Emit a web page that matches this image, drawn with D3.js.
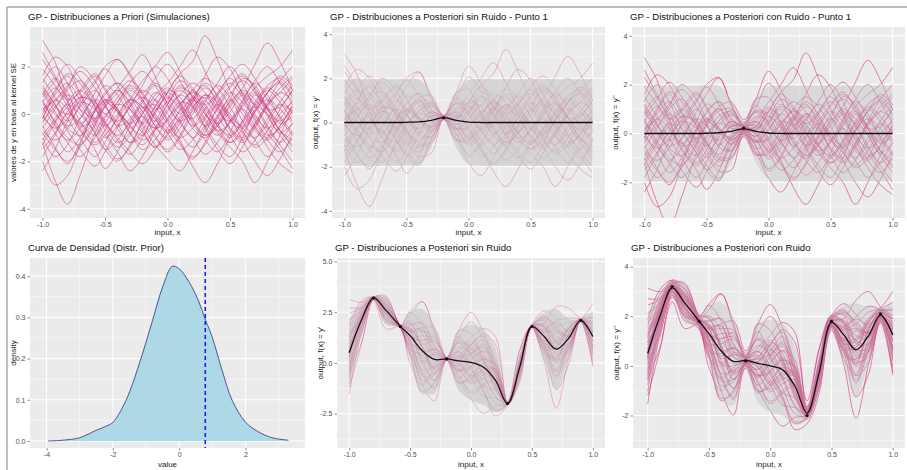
<!DOCTYPE html>
<html>
<head>
<meta charset="utf-8">
<script src="https://cdn.jsdelivr.net/npm/d3@7"></script>
<style>
  body { margin: 0; background: #fff; }
  text { font-family: "Liberation Sans", Arial, sans-serif; }
</style>
</head>
<body>
<div id="chart"></div>
<script>
var W = 907, H = 470;

// shared x grid for all GP panels
var xs = [-1, -0.9, -0.8, -0.7, -0.58, -0.5, -0.4, -0.3, -0.2, -0.1, 0, 0.1, 0.2, 0.3, 0.4, 0.5, 0.6, 0.7, 0.8, 0.9, 1];

// prior draws (standardised)
var priorDraws = [
  [0.8, 1.5, 0.9, -0.3, -0.9, -0.4, 0.5, 1.1, 0.6, -0.2, -0.8, -0.3, 0.7, 1.2, 0.4, -0.6, -1.1, -0.5, 0.3, 0.9, 0.6],
  [-0.5, -1.4, -2.1, -1.2, 0.1, 0.6, 0.2, -0.5, -0.9, -0.3, 0.6, 1.4, 1.0, 0.1, -0.7, -0.4, 0.5, 1.3, 0.8, -0.2, -0.9],
  [3.1, 2.2, 0.6, -0.4, 0.2, 0.9, 1.3, 0.7, -0.1, -0.6, -0.2, 0.5, 0.3, -0.5, -1.3, -1.8, -1.0, 0.1, 0.6, 0.2, -0.4],
  [-1.2, -2.8, -3.8, -2.6, -0.8, -0.1, 0.4, 0.2, -0.4, -1.0, -1.5, -0.9, 0.2, 0.8, 0.5, -0.3, -0.6, 0.1, 0.9, 1.3, 0.7],
  [0.2, 0.6, 1.2, 1.8, 1.1, 0.4, -0.6, -1.2, -0.7, 0.3, 1.0, 0.7, -0.2, -0.9, -0.4, 0.6, 1.5, 1.2, 0.2, -0.7, -1.4],
  [-2.0, -3.0, -2.6, -1.3, 0.1, 0.5, 0.1, -0.8, -1.5, -1.1, -0.2, 0.4, 0.9, 0.6, -0.1, -0.9, -1.6, -1.1, -0.2, 0.4, 0.1],
  [1.2, 0.4, -0.5, -0.2, 0.9, 1.6, 2.3, 1.7, 0.8, 0.2, 0.5, 1.1, 0.8, 0.0, -0.7, -1.2, -0.6, 0.4, 1.0, 0.5, -0.3],
  [-0.3, 0.3, 0.8, 0.4, -0.6, -1.3, -1.9, -1.4, -0.3, 0.6, 1.1, 0.5, -0.4, -1.1, -1.6, -0.8, 0.4, 1.1, 1.6, 2.0, 2.7],
  [0.6, -0.4, -1.2, -1.8, -1.0, -0.2, 0.7, 1.2, 0.9, 1.5, 2.1, 1.4, 0.3, -0.5, -0.1, 0.8, 1.4, 0.9, 0.0, -0.8, -0.4],
  [-0.9, -0.2, 0.5, 1.0, 0.3, -0.7, -1.4, -0.9, 0.1, 0.4, -0.2, -1.1, -2.2, -2.9, -2.1, -1.0, -0.3, 0.3, 0.0, -0.7, -1.3],
  [1.6, 2.4, 2.0, 0.9, -0.2, -0.5, 0.0, 0.6, 0.3, -0.5, -1.0, -0.4, 0.5, 1.6, 2.4, 1.9, 0.8, -0.1, -0.6, -0.2, 0.6],
  [-1.5, -0.8, 0.1, 0.7, 0.5, 0.0, -0.3, 0.3, 1.2, 2.0, 1.5, 0.4, -0.6, -1.0, -0.5, 0.3, 0.9, 0.4, -0.5, -1.3, -2.0],
  [0.1, 1.0, 1.7, 1.3, 0.3, -0.4, -1.0, -1.6, -2.1, -1.5, -0.6, 0.1, 0.6, 0.2, -0.5, -0.9, -0.4, 0.5, 1.2, 1.5, 1.0],
  [2.3, 1.5, 0.7, 0.2, -0.3, -0.9, -1.6, -2.4, -1.8, -0.7, 0.2, 0.8, 1.3, 0.9, 0.1, -0.3, 0.2, -0.5, -1.4, -2.1, -2.5],
  [-0.7, -1.1, -0.6, 0.4, 1.3, 1.9, 1.2, 0.2, -0.4, 0.1, 0.9, 1.7, 2.2, 3.3, 2.3, 1.0, 0.2, -0.6, -1.0, -0.5, 0.3],
  [0.4, 0.0, -0.7, -1.5, -2.2, -1.6, -0.6, 0.3, 0.7, 0.3, -0.4, -1.0, -0.6, 0.2, 0.8, 1.3, 0.7, -0.3, -1.1, -1.6, -1.0],
  [-2.4, -1.5, -0.3, 0.6, 1.4, 2.0, 2.3, 1.6, 0.6, -0.2, -0.7, -0.2, 0.5, 1.1, 0.6, -0.2, -0.8, -1.3, -0.7, 0.2, 1.0],
  [1.0, 0.3, 0.0, 0.5, 0.2, -0.5, -1.2, -0.8, 0.0, 0.8, 1.3, 2.0, 2.7, 1.8, 0.7, 0.0, -0.6, -1.0, -0.4, 0.5, 1.2],
  [-0.2, 0.9, 1.6, 0.8, -0.4, -1.0, -0.5, 0.4, 1.0, 0.6, -0.3, -1.2, -1.8, -1.3, -0.2, 0.5, 1.1, 2.1, 3.0, 2.2, 1.0],
  [0.9, 0.1, -0.6, -0.9, -0.3, 0.5, 1.0, 0.5, -0.5, -1.3, -1.9, -2.4, -1.6, -0.6, 0.2, 0.9, 0.5, -0.2, -0.9, -0.6, 0.1],
  [-1.0, -1.8, -1.3, -0.2, 0.6, 0.3, -0.4, -1.2, -0.9, 0.0, 0.7, 0.3, -0.5, -0.1, 0.8, 1.6, 2.1, 1.5, 0.6, -0.1, -0.8],
  [1.9, 1.2, 0.3, -0.7, -1.3, -0.9, -0.2, 0.6, 1.4, 2.0, 2.6, 1.8, 0.7, 0.0, -0.4, 0.1, 0.8, 0.3, -0.6, -1.2, -0.7],
  [-0.4, 0.5, 1.1, 2.0, 1.4, 0.6, 0.1, -0.5, -1.1, -0.7, 0.1, 0.8, 0.4, -0.6, -1.5, -2.1, -1.4, -0.4, 0.4, 1.1, 1.6],
  [0.0, -0.8, -1.6, -1.0, 0.2, 0.8, 1.3, 0.8, 0.1, -0.6, -0.3, 0.4, 1.0, 1.5, 1.1, 0.3, -0.7, -1.4, -1.0, 0.0, 0.5],
  [1.3, 2.0, 1.3, 0.2, -0.8, -1.5, -1.1, -0.3, 0.3, -0.1, -0.8, -1.5, -1.1, -0.2, 0.5, 1.2, 1.7, 1.0, 0.2, 0.3, 1.0],
  [-1.8, -0.9, 0.0, -0.4, -1.2, -0.7, 0.3, 1.0, 0.5, -0.5, -1.1, -0.6, 0.3, 0.7, 0.2, -0.6, -1.0, -0.4, 0.5, 1.4, 2.0],
  [0.5, 1.1, 0.6, 0.9, 1.6, 1.0, 0.1, -0.8, -1.3, -0.6, 0.4, 1.0, 0.5, -0.3, -0.9, -0.3, 0.6, 1.4, 2.0, 1.3, 0.4],
  [-0.1, -0.6, -0.2, 0.7, 0.4, -0.4, -1.1, -1.7, -1.0, 0.1, 0.9, 1.6, 1.1, 0.4, 0.9, 1.5, 0.9, 0.0, -0.8, -1.5, -2.3],
  [2.6, 1.6, 0.5, -0.5, -0.2, 0.6, 0.2, -0.6, 0.0, 0.9, 0.5, -0.3, -1.0, -0.5, 0.4, -0.2, -1.1, -2.0, -2.6, -1.9, -0.8],
  [-0.6, 0.2, 1.0, 1.4, 0.6, -0.3, -0.9, -0.4, 0.5, 1.2, 0.7, 0.0, 0.6, 1.3, 0.8, -0.1, -0.5, 0.2, 1.1, 0.7, 0.0],
  [0.3, -0.5, -1.1, -0.6, 0.5, 1.2, 0.8, -0.1, -0.8, -1.4, -0.9, -0.1, 0.7, 0.3, -0.5, -1.2, -0.8, 0.1, 0.9, 1.6, 1.2],
  [-1.3, -0.4, 0.4, 0.0, -0.8, -1.5, -2.0, -1.3, -0.4, 0.3, 0.9, 0.4, -0.3, -0.9, -0.5, 0.4, 1.0, 0.6, -0.1, -0.9, -1.6],
  [0.7, 1.4, 2.1, 1.5, 0.5, 0.0, 0.5, 1.3, 1.8, 1.2, 0.3, -0.4, -1.0, -1.7, -1.2, -0.3, 0.3, 0.9, 0.3, -0.4, -0.1],
  [-0.8, -1.5, -2.0, -1.4, -0.4, 0.3, 0.9, 1.4, 0.9, 0.0, -0.6, -1.3, -1.9, -1.2, -0.1, 0.6, 0.0, -0.7, -1.1, -0.5, 0.4],
  [1.1, 0.4, -0.3, 0.3, 1.0, 0.4, -0.5, -0.2, 0.6, 1.3, 0.8, 0.2, -0.2, 0.5, 1.2, 0.7, -0.3, -1.1, -1.8, -1.2, -0.4],
  [-0.2, 0.6, 0.2, -0.6, -1.5, -2.3, -1.6, -0.5, 0.2, 0.6, 0.0, -0.8, -1.4, -0.8, 0.3, 1.1, 1.6, 1.1, 0.2, -0.3, 0.3],
  [0.5, -0.3, -1.0, -1.3, -0.5, 0.4, 1.1, 1.8, 2.5, 1.6, 0.4, -0.3, 0.1, 0.8, 0.3, -0.7, -1.2, -0.6, 0.4, 0.9, 1.5],
  [-1.1, -0.3, 0.3, 1.0, 1.7, 1.1, 0.2, -0.4, -0.1, -0.9, -1.6, -1.0, 0.0, 0.6, 1.3, 2.0, 1.3, 0.4, 0.9, 1.4, 0.8],
  [0.0, 0.8, 1.3, 0.6, -0.2, 0.3, 1.0, 0.4, -0.7, -1.4, -0.8, 0.2, 1.0, 0.4, -0.4, -1.0, -0.3, 0.8, 0.2, -0.7, -1.1],
  [1.5, 0.7, -0.2, -1.0, -1.8, -1.2, -0.1, 0.6, 0.3, -0.3, 0.4, 1.2, 0.7, -0.2, -0.8, -1.4, -2.0, -2.9, -2.0, -0.9, 0.2]
];

// posterior, one point (x = -0.2)
var point1X = [-0.2], point1Y = [0.22];
var meanP1 = [0, 0, 0, 0, 0, 0.01, 0.03, 0.1, 0.22, 0.1, 0.02, 0, 0, 0, 0, 0, 0, 0, 0, 0, 0];
var sdP1 = [1, 1, 1, 1, 1, 1, 0.98, 0.62, 0.04, 0.62, 0.97, 1, 1, 1, 1, 1, 1, 1, 1, 1, 1];
var meanP1n = [0, 0, 0, 0, 0, 0.01, 0.03, 0.09, 0.19, 0.09, 0.02, 0, 0, 0, 0, 0, 0, 0, 0, 0, 0];
var sdP1n = [1, 1, 1, 1, 1, 1, 0.98, 0.66, 0.15, 0.66, 0.97, 1, 1, 1, 1, 1, 1, 1, 1, 1, 1];

// posterior, all points
var obsX = [-0.8, -0.58, -0.2, 0.3, 0.5, 0.9];
var obsY = [3.2, 1.8, 0.2, -2.0, 1.8, 2.1];
var meanAll = [0.5, 2.1, 3.2, 2.6, 1.8, 1.35, 0.6, 0.17, 0.2, 0.1, 0.03, -0.2, -0.85, -2.0, -0.2, 1.8, 1.3, 0.68, 1.2, 2.1, 1.3];
var sdAll = [0.85, 0.4, 0.03, 0.35, 0.03, 0.6, 1.05, 0.85, 0.03, 0.75, 0.95, 0.95, 0.8, 0.03, 0.35, 0.03, 0.6, 1.0, 0.5, 0.03, 0.6];
var meanAllN = [0.5, 2.0, 3.15, 2.55, 1.8, 1.3, 0.6, 0.18, 0.22, 0.1, 0.0, -0.15, -0.8, -1.9, -0.25, 1.75, 1.25, 0.65, 1.2, 2.05, 1.25];
var sdAllN = [0.85, 0.45, 0.15, 0.4, 0.15, 0.6, 1.0, 0.9, 0.15, 0.8, 0.95, 0.95, 0.8, 0.15, 0.4, 0.15, 0.6, 0.95, 0.6, 0.15, 0.65];

// density of prior values
var densX = [-3.95, -3.5, -3.0, -2.5, -2.2, -2.0, -1.6, -1.2, -0.8, -0.5, -0.2, 0.0, 0.3, 0.6, 0.8, 1.0, 1.3, 1.6, 2.0, 2.4, 2.8, 3.3];
var densY = [0.0, 0.002, 0.008, 0.026, 0.036, 0.045, 0.099, 0.188, 0.293, 0.373, 0.424, 0.418, 0.386, 0.337, 0.293, 0.252, 0.171, 0.099, 0.046, 0.022, 0.008, 0.002];
var vLine = 0.79;

var gpTicks = [-1, -0.5, 0, 0.5, 1];

var svg = d3.select('#chart').append('svg')
  .attr('width', W)
  .attr('height', H);

// outer frame
svg.append('line').attr('x1', 7).attr('x2', W).attr('y1', 7).attr('y2', 7)
  .attr('stroke', '#a8a8a8').attr('stroke-width', 1.5);
svg.append('line').attr('x1', 7).attr('x2', 7).attr('y1', 7).attr('y2', H)
  .attr('stroke', '#a8a8a8').attr('stroke-width', 1.5);

var clipId = 0;

function minors(ticks, dom) {
  var step = ticks[1] - ticks[0], out = [];
  for (var v = ticks[0] - step / 2; v <= dom[1]; v += step) {
    if (v >= dom[0]) out.push(v);
  }
  return out;
}

function panel(cfg) {
  var g = svg.append('g');
  var x = d3.scaleLinear().domain(cfg.xd).range([cfg.l, cfg.r]);
  var y = d3.scaleLinear().domain(cfg.yd).range([cfg.b, cfg.t]);

  g.append('rect')
    .attr('x', cfg.l).attr('y', cfg.t)
    .attr('width', cfg.r - cfg.l).attr('height', cfg.b - cfg.t)
    .attr('fill', '#ebebeb');

  // minor grid
  g.selectAll('.mx').data(minors(cfg.xt, cfg.xd)).enter().append('line')
    .attr('x1', function(d) { return x(d); }).attr('x2', function(d) { return x(d); })
    .attr('y1', cfg.t).attr('y2', cfg.b)
    .attr('stroke', '#fff').attr('stroke-width', 0.5);
  g.selectAll('.my').data(minors(cfg.yt, cfg.yd)).enter().append('line')
    .attr('y1', function(d) { return y(d); }).attr('y2', function(d) { return y(d); })
    .attr('x1', cfg.l).attr('x2', cfg.r)
    .attr('stroke', '#fff').attr('stroke-width', 0.5);
  // major grid
  g.selectAll('.gx').data(cfg.xt).enter().append('line')
    .attr('x1', function(d) { return x(d); }).attr('x2', function(d) { return x(d); })
    .attr('y1', cfg.t).attr('y2', cfg.b)
    .attr('stroke', '#fff').attr('stroke-width', 1);
  g.selectAll('.gy').data(cfg.yt).enter().append('line')
    .attr('y1', function(d) { return y(d); }).attr('y2', function(d) { return y(d); })
    .attr('x1', cfg.l).attr('x2', cfg.r)
    .attr('stroke', '#fff').attr('stroke-width', 1);

  // axes
  var ax = g.append('g').attr('transform', 'translate(0,' + cfg.b + ')')
    .call(d3.axisBottom(x).tickValues(cfg.xt).tickFormat(cfg.xf).tickSize(2.5).tickPadding(2));
  var ay = g.append('g').attr('transform', 'translate(' + cfg.l + ',0)')
    .call(d3.axisLeft(y).tickValues(cfg.yt).tickFormat(cfg.yf).tickSize(2.5).tickPadding(2));
  [ax, ay].forEach(function(a) {
    a.select('.domain').remove();
    a.selectAll('line').attr('stroke', '#444').attr('stroke-width', 0.6);
    a.selectAll('text').attr('fill', '#4d4d4d').style('font-size', '7px')
      .style('font-family', '"Liberation Sans", Arial, sans-serif');
  });

  // titles
  g.append('text').attr('x', cfg.l - 2).attr('y', cfg.t - 7)
    .style('font-size', '9.6px').attr('fill', '#111').text(cfg.title);
  g.append('text').attr('x', (cfg.l + cfg.r) / 2).attr('y', cfg.b + cfg.xlabOff)
    .attr('text-anchor', 'middle').style('font-size', '8px').attr('fill', '#222').text(cfg.xlab);
  var cy = (cfg.t + cfg.b) / 2;
  g.append('text').attr('transform', 'translate(' + (cfg.l - 14) + ',' + cy + ') rotate(-90)')
    .attr('text-anchor', 'middle').style('font-size', '8px').attr('fill', '#222').text(cfg.ylab);

  var id = 'clip' + (clipId++);
  g.append('clipPath').attr('id', id).append('rect')
    .attr('x', cfg.l).attr('y', cfg.t)
    .attr('width', cfg.r - cfg.l).attr('height', cfg.b - cfg.t);
  var plot = g.append('g').attr('clip-path', 'url(#' + id + ')');
  return { x: x, y: y, plot: plot };
}

var f1 = function(d) { return d.toFixed(1); };
var f0 = function(d) { return d.toFixed(0); };

function gpPanel(cfg, mean, sd, lineOpacity, ribbonOpacity, px, py) {
  var p = panel(cfg);
  var line = d3.line()
    .x(function(d, i) { return p.x(xs[i]); })
    .y(function(d) { return p.y(d); })
    .curve(d3.curveCatmullRom.alpha(0.5));

  var draws = priorDraws.map(function(z) {
    return z.map(function(v, i) { return (mean ? mean[i] : 0) + (sd ? sd[i] : 1) * v; });
  });

  p.plot.selectAll('.draw').data(draws).enter().append('path')
    .attr('d', line)
    .attr('fill', 'none')
    .attr('stroke', '#cf2f78')
    .attr('stroke-opacity', lineOpacity)
    .attr('stroke-width', 0.9);

  if (mean) {
    var area = d3.area()
      .x(function(d, i) { return p.x(xs[i]); })
      .y0(function(d, i) { return p.y(mean[i] - 1.96 * sd[i]); })
      .y1(function(d, i) { return p.y(mean[i] + 1.96 * sd[i]); })
      .curve(d3.curveCatmullRom.alpha(0.5));
    p.plot.append('path').datum(mean)
      .attr('d', area)
      .attr('fill', '#c4c4c4')
      .attr('fill-opacity', ribbonOpacity);

    p.plot.append('path').datum(mean)
      .attr('d', line)
      .attr('fill', 'none')
      .attr('stroke', '#111')
      .attr('stroke-width', 1.3);

    p.plot.selectAll('.obs').data(px).enter().append('circle')
      .attr('cx', function(d) { return p.x(d); })
      .attr('cy', function(d, i) { return p.y(py[i]); })
      .attr('r', 1.6)
      .attr('fill', '#111');
  }
}

// top row
gpPanel({ l: 30, r: 305, t: 27, b: 218, xd: [-1.1, 1.1], yd: [-4.39, 3.67],
  xt: gpTicks, yt: [-4, -2, 0, 2], xf: f1, yf: f0, xlabOff: 17,
  title: 'GP - Distribuciones a Priori (Simulaciones)', xlab: 'input, x',
  ylab: 'valores de y en base al kernel SE' }, null, null, 0.58);

gpPanel({ l: 332, r: 605, t: 27, b: 218, xd: [-1.1, 1.1], yd: [-4.32, 4.32],
  xt: gpTicks, yt: [-4, -2, 0, 2, 4], xf: f1, yf: f0, xlabOff: 17,
  title: 'GP - Distribuciones a Posteriori sin Ruido - Punto 1', xlab: 'input, x',
  ylab: "output, f(x) = y'" }, meanP1, sdP1, 0.35, 0.6, point1X, point1Y);

gpPanel({ l: 632, r: 905, t: 27, b: 218, xd: [-1.1, 1.1], yd: [-3.46, 4.36],
  xt: gpTicks, yt: [-2, 0, 2, 4], xf: f1, yf: f0, xlabOff: 17,
  title: 'GP - Distribuciones a Posteriori con Ruido - Punto 1', xlab: 'input, x',
  ylab: "output, f(x) = y''" }, meanP1n, sdP1n, 0.65, 0.45, point1X, point1Y);

// bottom row: density
(function() {
  var p = panel({ l: 30, r: 305, t: 258, b: 448, xd: [-4.5, 3.8], yd: [-0.017, 0.444],
    xt: [-4, -2, 0, 2], yt: [0, 0.1, 0.2, 0.3, 0.4], xf: f0, yf: f1, xlabOff: 19,
    title: 'Curva de Densidad (Distr. Prior)', xlab: 'value', ylab: 'density' });
  var area = d3.area()
    .x(function(d, i) { return p.x(densX[i]); })
    .y0(p.y(0))
    .y1(function(d) { return p.y(d); })
    .curve(d3.curveCatmullRom.alpha(0.5));
  p.plot.append('path').datum(densY)
    .attr('d', area)
    .attr('fill', '#add8e6');
  p.plot.append('path').datum(densY)
    .attr('d', area.lineY1())
    .attr('fill', 'none')
    .attr('stroke', '#27357a')
    .attr('stroke-width', 0.8);
  p.plot.append('line')
    .attr('x1', p.x(vLine)).attr('x2', p.x(vLine))
    .attr('y1', 258).attr('y2', 448)
    .attr('stroke', '#1a1aff')
    .attr('stroke-width', 1.6)
    .attr('stroke-dasharray', '4,3');
})();

gpPanel({ l: 337, r: 605, t: 258, b: 448, xd: [-1.1, 1.1], yd: [-4.19, 5.17],
  xt: gpTicks, yt: [-2.5, 0, 2.5, 5], xf: f1, yf: f1, xlabOff: 19,
  title: 'GP - Distribuciones a Posteriori sin Ruido', xlab: 'input, x',
  ylab: "output, f(x) = y'" }, meanAll, sdAll, 0.35, 0.6, obsX, obsY);

gpPanel({ l: 633, r: 905, t: 258, b: 448, xd: [-1.12, 1.1], yd: [-3.31, 4.35],
  xt: gpTicks, yt: [-2, 0, 2, 4], xf: f1, yf: f0, xlabOff: 19,
  title: 'GP - Distribuciones a Posteriori con Ruido', xlab: 'input, x',
  ylab: "output, f(x) = y''" }, meanAllN, sdAllN, 0.65, 0.45, obsX, obsY);
</script>
</body>
</html>
